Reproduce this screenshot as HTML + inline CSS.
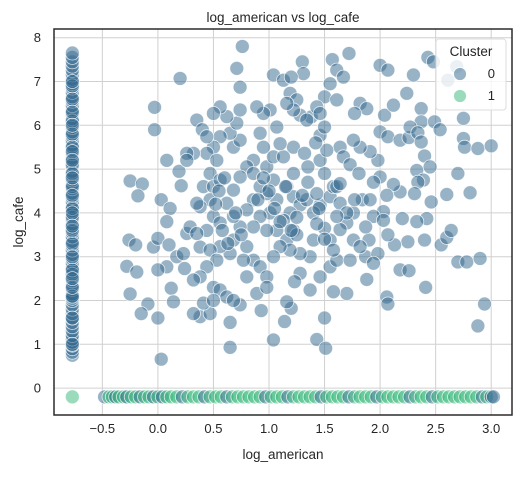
<!DOCTYPE html>
<html><head><meta charset="utf-8"><style>
body{margin:0;background:#fff;}
svg text{font-family:"Liberation Sans","DejaVu Sans",sans-serif;fill:#262626;}
</style></head><body>
<svg id="chart" width="529" height="475" xmlns="http://www.w3.org/2000/svg">
<rect width="529" height="475" fill="#fff"/>
<g id="grid"></g>
<g id="marks"></g>
<rect x="54" y="29" width="458" height="386" fill="none" stroke="#2b2b2b" stroke-width="1.5"/>
<g id="ticks"></g>
<text x="283" y="22" font-size="13.5" text-anchor="middle">log_american vs log_cafe</text>
<text x="283" y="459" font-size="13.5" text-anchor="middle">log_american</text>
<text transform="translate(23,222) rotate(-90)" font-size="13.5" text-anchor="middle">log_cafe</text>
<g>
<rect x="436" y="39" width="70" height="71" rx="3" fill="#fff" fill-opacity="0.8" stroke="#ddd"/>
<text x="471" y="56" font-size="13.5" text-anchor="middle">Cluster</text>
<circle cx="460" cy="74" r="6.5" fill="#31688e" fill-opacity="0.5" stroke="#fff" stroke-width="0.8"/>
<text x="495" y="78" font-size="13" text-anchor="end">0</text>
<circle cx="460" cy="96" r="6.5" fill="#35b779" fill-opacity="0.5" stroke="#fff" stroke-width="0.8"/>
<text x="495" y="100" font-size="13" text-anchor="end">1</text>
</g>
</svg>
<script>
const xTicks=[-0.5,0.0,0.5,1.0,1.5,2.0,2.5,3.0];
const xTickLabels=["−0.5","0.0","0.5","1.0","1.5","2.0","2.5","3.0"];
const yTicks=[0,1,2,3,4,5,6,7,8];
const yTickLabels=["0","1","2","3","4","5","6","7","8"];
const scatterX=[0.2,-0.03,-0.03,0.08,-0.25,-0.14,-0.18,0.03,0.11,0.08,-0.26,-0.2,-0.04,0,-0.28,-0.19,-0.25,-0.09,-0.15,0,0.03,0.1,0.08,0,0.12,0.14,0.19,0.21,0.17,0.24,
0.76,0.71,0.74,1.3,1.31,1.04,1.13,1.2,1.19,1.72,1.57,1.61,1.67,1.55,1.5,1.61,2.0,2.07,2.3,2.24,2.43,2.48,2.69,2.61,2.04,2.12,2.37,2.37,2.49,2.54,2.75,2.75,2.76,2.88,3.0,2.7,2.81,2.6,2.4,2.33,2.39,2.45,2.46,2.42,2.4,2.55,2.6,2.64,2.7,2.78,2.9,2.41,2.94,2.88,2.18,2.26,2.06,2.07,1.88,1.7,1.58,1.5,1.43,1.51,1.04,0.65,0.65,1.14,1.2,1.16,0.93,0.74,0.38,0.47,0.32,0.41,
2.25,2.13,2.07,2.2,2.18,2.12,2.06,2.0,1.94,1.98,1.91,2.0,2.07,2.18,2.26,2.27,2.34,2.37,2.34,2.31,2.33,2.03,1.94,1.9,1.87,1.98,1.94,1.82,1.88,1.77,1.82,1.76,1.64,1.67,1.73,1.81,1.84,1.76,1.7,1.76,1.82,1.64,1.55,1.55,1.61,1.73,1.46,1.37,1.28,1.23,1.5,1.4,1.37,1.28,1.46,1.55,1.58,1.5,1.46,1.52,1.46,1.5,1.42,1.38,1.43,1.46,1.28,1.34,1.25,1.22,1.16,1.22,1.32,1.35,1.22,1.16,1.22,1.28,1.34,1.4,1.43,1.19,1.13,1.22,1.16,1.25,1.19,1.1,1.04,1.07,1.01,1.07,0.98,1.04,0.98,1.04,1.13,1.1,1.07,1.01,0.95,0.89,0.92,0.95,0.86,0.8,0.86,0.92,0.86,0.8,0.92,0.98,0.86,0.74,0.8,0.86,0.92,0.98,0.89,0.98,0.8,0.77,0.68,0.65,0.56,0.68,0.62,0.68,0.74,0.68,0.74,0.65,0.71,0.74,0.62,0.56,0.5,0.56,0.5,0.44,0.53,0.47,0.41,0.5,0.56,0.47,0.38,0.5,0.56,0.44,0.38,0.47,0.53,0.44,0.38,0.32,0.5,0.56,0.62,0.68,0.5,0.26,0.29,0.35,0.32,0.26,0.35,0.4,0.44,0.26,0.35,0.23,
1.64,1.61,1.7,1.77,1.61,1.58,1.43,1.91,1.87,1.64,2.03,0.55,0.6,0.58,0.52,0.63,1.0,1.05,0.95,1.1,1.3,1.25,1.35,0.9,0.7,0.75,1.15,1.2,1.45,1.5];
const scatterY=[7.07,6.41,5.9,5.2,4.73,4.66,4.39,4.3,4.1,3.8,3.38,3.27,3.22,3.42,2.78,2.65,2.15,1.92,1.7,1.6,0.66,3.27,2.77,2.7,2.28,1.97,4.95,4.62,3.0,2.73,
7.8,7.3,6.87,7.45,7.18,7.15,7.03,7.1,6.73,7.64,7.5,7.26,7.1,6.95,6.65,6.58,7.37,7.26,7.15,6.73,7.55,7.45,7.34,7.03,6.23,6.46,6.38,6.08,6.08,5.9,6.16,5.7,5.5,5.47,5.53,4.9,4.46,4.42,5.3,4.97,4.75,5.05,4.25,3.87,3.38,3.27,3.44,3.6,2.88,2.88,2.96,2.3,1.92,1.42,2.7,2.68,2.08,1.92,2.48,2.16,2.2,1.6,1.11,0.91,1.1,0.93,1.5,1.52,1.82,1.97,1.77,1.9,1.63,1.7,1.7,1.94,
3.34,3.27,3.5,3.87,4.48,4.65,4.4,4.82,4.7,5.2,5.4,5.85,5.74,5.66,5.72,5.96,5.83,5.62,4.7,4.44,3.8,4.03,3.92,3.38,3.0,3.07,2.85,6.5,6.38,6.27,5.5,5.66,5.5,5.28,5.1,4.9,4.3,4.0,3.77,3.38,3.23,3.62,3.38,2.77,2.92,2.92,2.54,2.24,2.62,2.43,3.65,3.38,3.0,3.07,4.18,4.37,4.6,4.9,5.2,5.43,5.77,5.96,5.6,6.19,6.42,6.27,6.23,6.12,6.58,6.35,6.5,5.5,5.36,5.05,4.9,4.6,4.37,4.18,4.3,4.0,4.44,4.0,3.83,3.6,3.38,3.5,3.15,3.23,3.0,3.6,4.0,4.3,4.44,4.75,5.05,5.28,5.28,5.58,5.96,6.35,6.27,6.42,5.82,5.5,5.2,5.05,4.9,4.6,4.3,4.07,3.92,3.6,3.68,3.68,3.23,2.92,2.77,2.54,2.16,2.3,2.54,2.92,3.38,3.07,3.23,3.92,4.22,4.52,4.82,5.5,5.66,5.82,6.05,6.35,6.2,6.42,6.27,5.74,5.5,5.36,5.2,4.9,4.6,4.6,4.75,4.3,4.14,3.92,3.77,3.6,3.22,3.15,2.92,2.77,2.54,2.47,2.3,2.24,2.08,2.0,2.0,3.53,3.68,3.53,5.36,5.36,6.12,5.9,5.74,5.2,4.22,3.07,
4.22,4.6,4.0,4.3,3.92,3.15,3.75,4.3,3.68,4.67,3.83,4.5,4.8,3.6,4.2,3.3,4.5,4.1,4.8,3.8,4.4,3.9,4.7,4.3,4.0,3.5,4.6,3.6,4.1,3.4];
const columnY=[0.75,0.82,0.9,0.98,1.05,1.12,1.2,1.3,1.4,1.5,1.6,1.7,1.8,1.9,2.0,2.08,2.15,2.25,2.35,2.45,2.55,2.65,2.75,2.85,2.95,3.05,3.15,3.25,3.35,3.45,3.55,3.65,3.75,3.85,3.95,4.05,4.15,4.25,4.35,4.45,4.55,4.65,4.75,4.85,4.95,5.05,5.15,5.25,5.35,5.45,5.55,5.65,5.75,5.85,5.95,6.05,6.15,6.25,6.35,6.45,6.55,6.65,6.75,6.85,6.95,7.05,7.15,7.25,7.35,7.45,7.55,7.65,
2.05,2.6,3.3,3.9,4.1,4.6,5.1,5.5,6.1,6.6,6.9,2.1,2.7,3.0,3.6,4.0,4.4,4.9,5.4,5.8,6.3,7.0,1.0,1.6,2.3,2.5,3.7,4.8,5.2,6.0];
const bottomX=[-0.48,-0.44,-0.41,-0.38,-0.35,-0.31,-0.28,-0.24,-0.2,-0.16,-0.12,-0.08,-0.04,0.0,0.04,0.08,0.12,0.17,0.22,0.27,0.32,0.37,0.42,0.47,0.52,0.57,0.62,0.67,0.72,0.77,0.82,0.87,0.92,0.97,1.02,1.07,1.12,1.17,1.22,1.27,1.32,1.37,1.42,1.47,1.52,1.57,1.62,1.67,1.72,1.77,1.82,1.87,1.92,1.97,2.02,2.07,2.12,2.17,2.22,2.27,2.32,2.37,2.42,2.47,2.52,2.57,2.62,2.67,2.72,2.77,2.82,2.87,2.92,2.96,3.0,3.02,-0.77];
const bottomCluster=[0,1,1,0,1,1,0,1,1,0,1,1,0,1,0,1,1,1,0,1,1,1,0,1,1,1,0,1,1,1,1,1,1,0,1,1,1,0,1,1,1,1,1,0,1,1,1,1,0,1,1,1,1,0,1,1,1,1,1,0,1,1,1,0,1,1,1,1,1,1,1,1,0,1,0,0,1];
const BOTTOM_Y=-0.2, COLUMN_X=-0.77;
const X0=54,X1=512,Y0=29,Y1=415;
function sx(v){return 157.9+v*111.1;}
function sy(v){return 388.1-v*43.8;}
const NS="http://www.w3.org/2000/svg";
const grid=document.getElementById('grid'),ticks=document.getElementById('ticks'),marks=document.getElementById('marks');
function mk(tag,attrs,parent){const e=document.createElementNS(NS,tag);for(const k in attrs)e.setAttribute(k,attrs[k]);parent.appendChild(e);return e;}
xTicks.forEach((t,i)=>{
  const l=mk('line',{x1:sx(t),x2:sx(t),y1:Y0,y2:Y1,stroke:'#d0d0d0','stroke-width':1},grid);
  
  
  const tx=mk('text',{x:sx(t),y:Y1+18,'font-size':13,'text-anchor':'middle'},ticks);
  tx.textContent=xTickLabels[i];
  
  
});
yTicks.forEach((t,i)=>{
  const l=mk('line',{x1:X0,x2:X1,y1:sy(t),y2:sy(t),stroke:'#d0d0d0','stroke-width':1},grid);
  
  
  const tx=mk('text',{x:X0-13,y:sy(t)+4.5,'font-size':13,'text-anchor':'end'},ticks);
  tx.textContent=yTickLabels[i];
  
  
});
const C0='#31688e',C1='#35b779';
function dot(x,y,c,name){
  const e=mk('circle',{cx:sx(x),cy:sy(y),r:7,fill:c,'fill-opacity':0.5,stroke:'#fff','stroke-width':0.8,'stroke-opacity':0.8},marks);
  
  
}
columnY.forEach(y=>dot(COLUMN_X,y,C0,'point-cluster-0'));
scatterX.forEach((x,i)=>dot(x,scatterY[i],C0,'point-cluster-0'));
bottomX.forEach((x,i)=>dot(x,BOTTOM_Y,bottomCluster[i]?C1:C0,bottomCluster[i]?'point-cluster-1':'point-cluster-0'));
</script>
</body></html>
